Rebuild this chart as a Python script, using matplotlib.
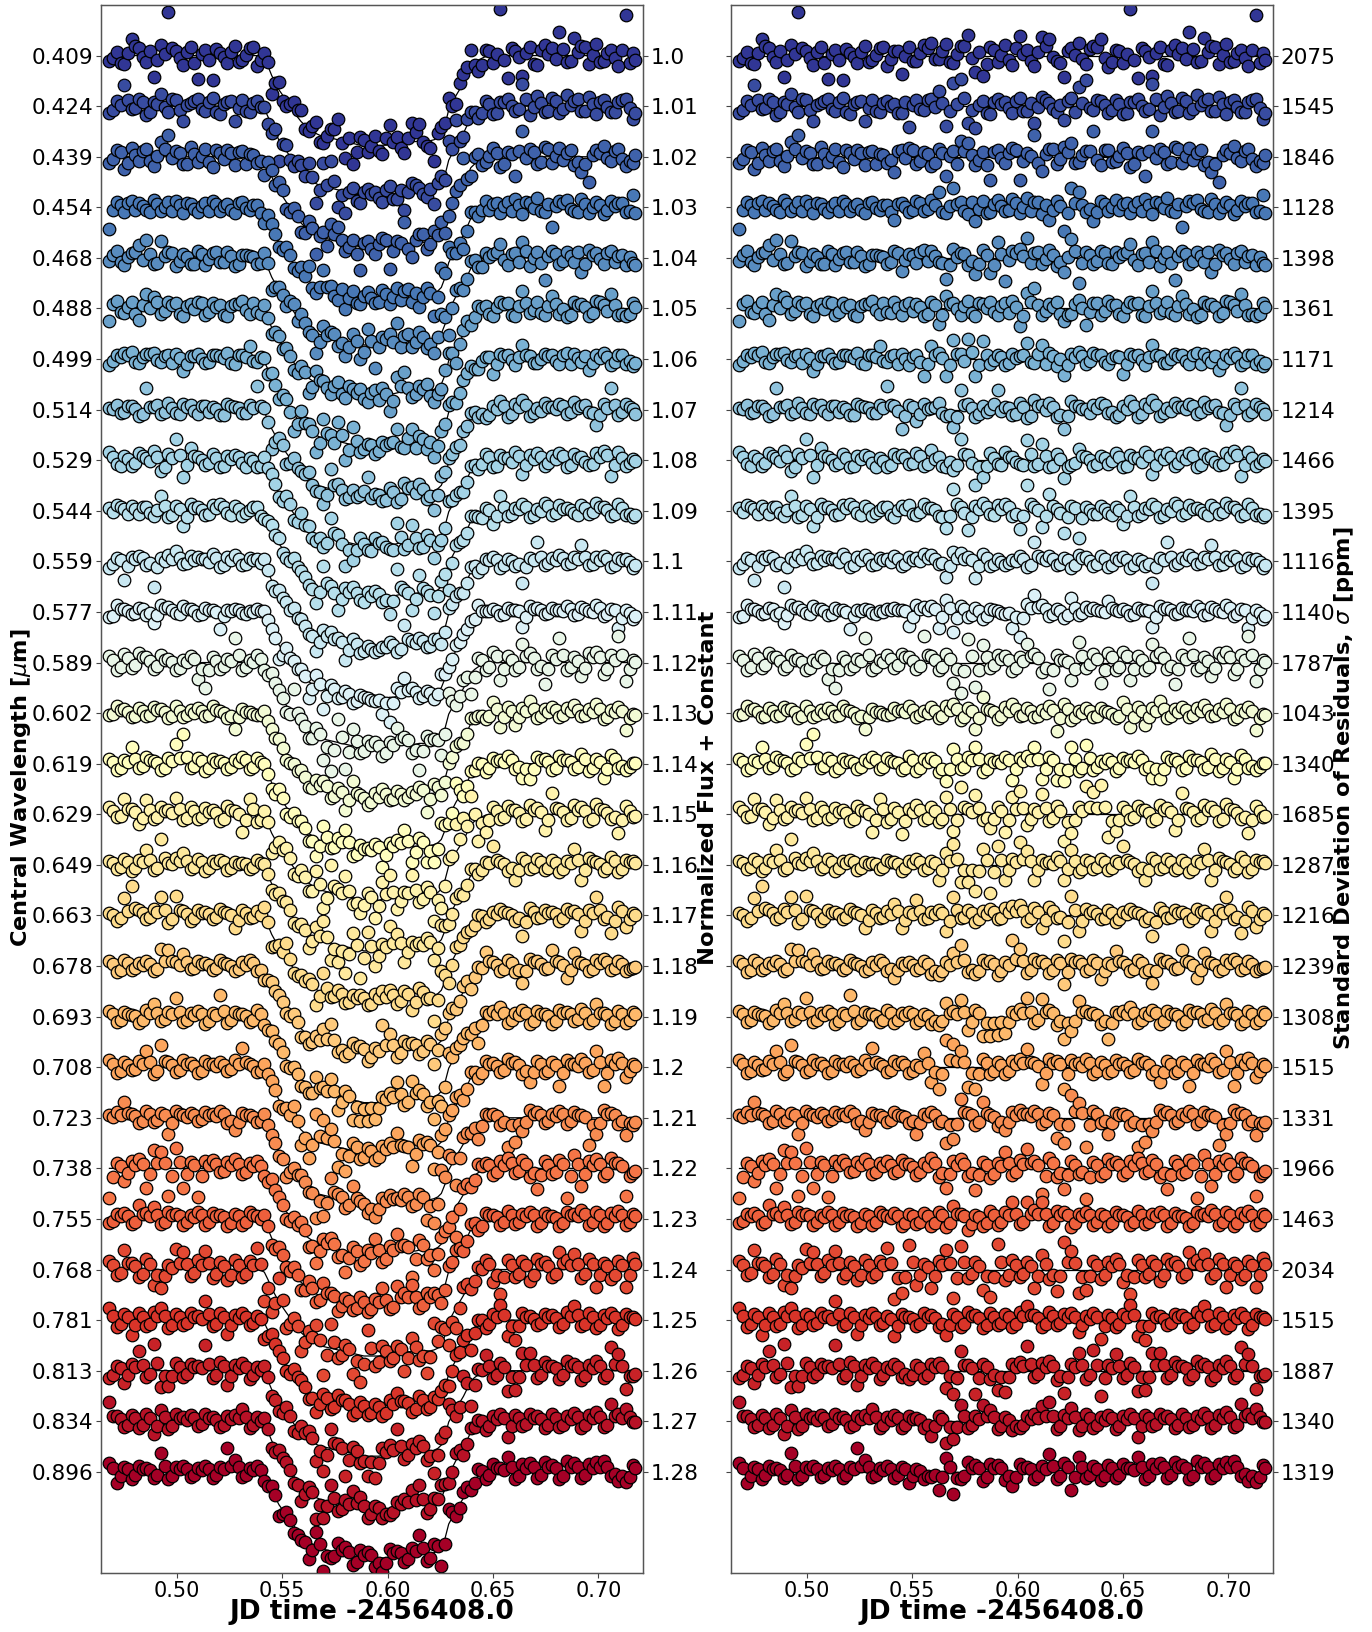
import numpy as np
import matplotlib
matplotlib.use("Agg")
import matplotlib.pyplot as plt

wavelengths = ["0.409","0.424","0.439","0.454","0.468","0.488","0.499","0.514","0.529","0.544","0.559","0.577","0.589","0.602","0.619","0.629","0.649","0.663","0.678","0.693","0.708","0.723","0.738","0.755","0.768","0.781","0.813","0.834","0.896"]
offset_labels = ["1.0","1.01","1.02","1.03","1.04","1.05","1.06","1.07","1.08","1.09","1.1","1.11","1.12","1.13","1.14","1.15","1.16","1.17","1.18","1.19","1.2","1.21","1.22","1.23","1.24","1.25","1.26","1.27","1.28"]
sigma_ppm = ["2075","1545","1846","1128","1398","1361","1171","1214","1466","1395","1116","1140","1787","1043","1340","1685","1287","1216","1239","1308","1515","1331","1966","1463","2034","1515","1887","1340","1319"]
offsets = [1.00,1.01,1.02,1.03,1.04,1.05,1.06,1.07,1.08,1.09,1.10,1.11,1.12,1.13,1.14,1.15,1.16,1.17,1.18,1.19,1.20,1.21,1.22,1.23,1.24,1.25,1.26,1.27,1.28]

# sample times (JD - 2456408.0), read along the row
times = [.4680,.4715,.4750,.4785,.4820,.4855,.4890,.4925,.4960,.4995,.5030,.5065,
         .5100,.5135,.5170,.5205,.5240,.5275,.5310,.5345,.5380,.5415,.5450,.5485,
         .5520,.5555,.5590,.5625,.5660,.5695,.5730,.5765,.5800,.5835,.5870,.5905,
         .5940,.5975,.6010,.6045,.6080,.6115,.6150,.6185,.6220,.6255,.6290,.6325,
         .6360,.6395,.6430,.6465,.6500,.6535,.6570,.6605,.6640,.6675,.6710,.6745,
         .6780,.6815,.6850,.6885,.6920,.6955,.6990,.7025,.7060,.7095,.7130,.7165]
times_b = [.4698,.4733,.4768,.4803,.4838,.4873,.4908,.4943,.4978,.5013,.5048,.5083,
           .5118,.5153,.5188,.5223,.5258,.5293,.5328,.5363,.5398,.5433,.5468,.5503,
           .5538,.5573,.5608,.5643,.5678,.5713,.5748,.5783,.5818,.5853,.5888,.5923,
           .5958,.5993,.6028,.6063,.6098,.6133,.6168,.6203,.6238,.6273,.6308,.6343,
           .6378,.6413,.6448,.6483,.6518,.6553,.6588,.6623,.6658,.6693,.6728,.6763,
           .6798,.6833,.6868,.6903,.6938,.6973,.7008,.7043,.7078,.7113,.7148,.7175]
# transit shape, percent of the row's depth
shape = [0,0,0,0,0,0,0,0,0,0,0,0,
         0,0,0,0,0,0,0,0,0,3,22,38,
         50,62,73,80,86,89,91,93,95,97,99,100,
         100,99,98,97,96,95,94,94,93,87,60,44,
         30,12,5,1,0,0,0,0,0,0,0,0,
         0,0,0,0,0,0,0,0,0,0,0,0]
shape_b = [0,0,0,0,0,0,0,0,0,0,0,0,
           0,0,0,0,0,0,0,0,1,12,30,44,
           56,68,77,83,88,90,92,94,96,98,100,100,
           100,99,98,96,95,95,94,94,91,76,52,37,
           21,8,3,0,0,0,0,0,0,0,0,0,
           0,0,0,0,0,0,0,0,0,0,0,0]
# depth of each row in units of 1e-4 flux
depths = [179,178,180,182,172,172,175,172,170,172,172,172,170,170,172,170,170,170,170,170,170,172,172,172,171,177,169,175,172]

# residuals of each row in units of 1e-4 flux (up = positive)
r00 = [-10,8,-16,33,14,-12,-42,20,87,10,-18,16, -46,12,-48,6,-14,18,-8,14,-20,10,-37,16, -10,20,24,-6,22,-14,18,41,-33,-41,16,-12, 20,-18,38,12,-20,36,33,-10,-42,14,24,-16, 18,32,-22,12,-14,93,-44,10,-40,16,-18,20, 14,47,-12,35,18,-16,22,-10,12,-20,81,6]
r01 = [-14,10,41,-6,14,-18,8,25,-12,12,-30,6, 14,-10,16,-16,8,-30,12,-12,10,4,-14,-41, 12,-8,14,30,-39,46,53,-33,-43,10,-16,14, 8,-14,16,-10,-34,18,6,-12,-28,16,38,51, -8,10,-14,12,-16,8,14,-10,43,-18,20,-12, 16,-14,22,10,-10,18,-16,12,-12,8,14,-25]
r02 = [-12,14,-25,18,-8,16,-18,29,42,12,-14,20, -10,16,-20,8,14,-16,12,6,-12,-30,14,18, -14,10,-18,16,-38,12,31,28,-16,10,-46,14, -12,18,-46,8,43,-28,16,-14,20,28,-10,12, 51,-16,14,-8,18,-20,10,-38,50,16,-14,20, -12,18,8,-16,-30,-50,14,22,-8,16,-18,-12]
r03 = [-42,10,-10,12,8,-6,14,-8,10,12,-12,6, -10,8,12,-8,6,-12,10,-6,4,-25,8,-10, 12,-8,14,30,-12,38,10,-14,-28,12,-10,14, -8,16,-12,18,10,-14,-25,12,-46,39,31,-10, -28,12,-8,14,6,-12,10,16,-14,8,18,-10, -38,12,14,-8,16,-12,10,-14,12,8,-10,25]
r04 = [-6,14,-14,10,26,35,-12,33,12,-16,8,-12, 14,-14,10,-8,12,-16,6,4,-12,14,-25,8, -10,16,14,-8,-41,18,10,-14,-31,16,-30,31, -45,14,18,39,10,-12,16,-16,-28,38,-49,12, -12,14,-10,12,8,28,-14,10,31,-16,12,-44, 14,-12,12,-8,-28,16,10,-12,14,4,-14,-10]
r05 = [-25,14,-8,12,-22,28,23,-10,12,10,-14,8, 12,-12,10,6,-14,8,14,-10,-6,12,-12,10, 8,-14,12,-30,24,10,-12,14,-14,8,12,-12, 10,14,-34,31,40,-12,8,12,-25,-10,16,-33, 10,-12,14,6,-14,12,10,-14,34,-8,12,-12, 24,-10,-16,12,8,-14,14,6,29,-12,-14,10]
r06 = [-12,8,12,14,-8,10,12,-6,8,10,-24,6, 10,-8,8,6,12,-10,8,26,-6,8,10,-12, 8,-34,25,12,-33,38,10,39,-33,35,-10,8, -12,10,6,32,-8,28,12,-14,-31,10,14,-10, 12,8,-10,6,-29,10,8,-12,28,6,-8,10, 8,-10,12,10,-6,-21,8,12,-12,8,-10,-14]
r07 = [4,10,-4,8,-12,43,6,-8,14,-6,12,10, -8,8,6,-10,12,6,-6,10,46,8,-39,10, -22,12,4,14,-12,-34,39,12,-14,8,2,39, 6,-10,14,-16,20,10,14,-14,-39,18,8,2, 10,14,-6,-14,8,18,-14,12,20,-12,4,14, 6,12,-8,16,8,-4,-31,12,43,-10,12,2]
r08 = [16,-8,8,-12,14,4,18,-22,12,42,-33,25, 6,-10,12,-14,8,10,-6,4,-14,12,10,-8, 14,-12,20,6,-14,-20,41,10,-48,-33,14,-8, 16,6,-8,40,-12,33,-14,12,-36,-10,22,6, -12,8,-8,14,-14,10,4,16,-27,10,14,-12, 8,14,-14,12,6,-10,14,18,-31,16,-12,2]
r09 = [6,12,4,10,-6,8,-10,30,-12,10,-31,14, 8,-8,12,14,-4,10,-10,2,8,-12,10,12, -8,14,6,-10,-34,44,8,-37,10,16,-6,12, 14,-10,-36,52,8,-32,34,4,-43,10,-54,8, -6,10,-4,8,-27,29,-10,6,14,-12,4,16, -8,12,6,-4,12,-6,16,8,-10,14,-8,-12]
r10 = [-14,6,-37,8,10,-8,-51,6,12,20,-6,10, 8,4,14,-12,8,12,-8,6,4,10,-10,8, 6,14,12,-6,-30,18,16,8,-32,14,-10,4, -8,2,10,-12,39,6,10,-8,6,-14,12,8, -10,10,-12,6,8,-14,4,-10,-42,6,39,-8, 6,12,-6,8,33,-8,8,10,-12,6,4,-14]
r11 = [-10,14,6,-4,8,-6,-22,14,10,-2,12,6, -6,8,4,-34,4,6,-2,2,6,8,4,-27, 14,10,12,-32,24,-39,12,-10,8,-14,6,2, -4,-32,-49,16,34,14,-8,6,-12,27,-6,10, 8,2,22,4,6,-6,8,4,-30,12,8,-4, 8,4,12,-6,10,2,14,-8,6,-32,4,-14]
r12 = [12,-14,16,-10,18,10,-12,14,8,-14,6,12, -32,-51,10,-12,8,48,-14,6,14,-10,16,10, -12,53,12,-14,16,-41,-60,46,-49,34,-10,14, 12,-16,10,36,16,-18,-52,14,6,-34,41,-10, 16,-41,18,-14,20,-35,12,-14,36,18,-12,-42, 14,48,-14,10,-26,18,20,-22,14,52,-37,6]
r13 = [-4,14,8,-8,10,-6,12,8,-10,14,-8,6, 10,-6,14,4,-10,-31,8,2,-4,10,6,14, -8,4,12,-10,14,18,-14,10,-31,31,6,-12, 12,18,-6,10,-8,6,14,-36,18,-14,4,10, -8,10,2,-10,22,-27,12,-24,10,24,-10,8, 12,-8,10,16,-6,8,18,-12,6,12,-33,-2]
r14 = [10,-12,8,34,-8,14,6,-12,12,39,58,-8, 12,-14,10,6,-10,8,14,-10,12,4,-12,16, -14,10,12,-16,-34,29,-10,14,33,-16,10,6, 14,-33,12,16,34,-31,14,-33,-34,33,-14,37, -12,6,10,-14,12,8,16,-10,-29,-31,14,10, -12,16,8,-10,20,-14,10,-29,18,-8,-12,2]
r15 = [14,-6,31,10,-19,29,-10,14,8,32,-12,14, -10,12,8,-14,16,6,-36,30,-16,12,-39,10, 18,-12,14,-16,35,-33,54,10,39,-12,-27,14, -36,34,46,-22,10,41,-14,16,-53,-37,14,56, 44,57,-44,-34,14,-10,16,8,-14,18,12,-31, 43,10,-12,18,14,-14,20,8,-10,-37,16,-6]
r16 = [8,-8,12,-12,10,30,-10,52,4,14,24,-8, 12,-12,8,10,-10,6,4,-8,10,6,-12,8, 12,-10,8,-29,24,41,-33,-33,-52,31,-55,38, -29,12,45,28,-29,10,6,16,-30,30,-14,10, -8,12,-10,8,38,6,-12,-29,14,-8,12,-10, 10,-14,8,31,-30,14,6,-12,16,-14,10,8]
r17 = [4,-10,34,58,10,-8,12,36,-15,39,8,-10, 10,6,-8,12,4,-24,10,-6,8,22,-24,6, 31,-8,6,10,-30,37,-6,10,-12,8,12,-8, 14,18,20,-10,14,-25,16,-6,-50,39,-31,12, 8,-8,10,-12,6,12,4,-10,-40,14,-6,10, 6,-10,12,8,-30,10,36,-8,-34,16,-22,4]
r18 = [10,-12,12,-8,6,10,-10,33,31,8,24,-6, 10,6,-8,12,4,-10,8,12,-10,-23,6,8, -8,10,-16,-18,8,26,41,-12,-16,12,10,-18, 8,52,33,-14,14,10,-14,12,-35,14,10,-10, 12,-25,6,29,8,-10,12,-12,-34,14,10,-6, 31,8,-24,26,6,-10,12,14,-8,10,-10,-4]
r19 = [12,-10,10,4,-12,14,24,-8,10,36,-10,8, 12,-14,8,42,-12,10,6,-10,14,-12,8,10, -12,6,-14,-16,27,12,32,-26,14,-39,-39,-37, -33,10,16,36,-12,34,14,-16,-44,-29,31,12, 8,-14,-44,10,12,19,-12,8,14,-14,12,6, -14,14,10,-8,16,-12,25,8,-14,12,-12,10]
r20 = [14,-12,10,-6,12,32,-14,44,10,-10,14,8, -12,12,6,10,-8,14,38,6,-10,12,10,-12, 4,29,-29,-44,54,46,33,-39,-44,16,-14,10, -14,12,16,35,8,-33,16,12,-44,14,8,16, -14,10,-12,14,8,-10,16,10,-14,-29,12,-12, 10,-38,14,6,16,-10,33,-38,14,18,-19,6]
r21 = [6,12,31,8,-10,14,-8,10,-32,14,6,10, -6,12,8,14,-10,-24,10,6,-8,12,4,-10, -32,8,12,-10,-50,-42,37,10,-14,31,6,-16, -25,12,16,8,14,-12,10,-40,-49,46,29,-58, 14,-10,-33,10,8,-14,-57,-47,-27,16,12,-10, 8,14,-12,12,6,-54,-33,16,10,-12,-35,-14]
r22 = [-59,10,-25,14,18,-39,37,33,-54,41,-39,12, -56,14,16,-8,12,18,-12,10,14,-10,16,8, -14,10,20,-18,-39,14,18,-16,-42,12,-20,10, 33,-14,16,38,14,-51,20,-18,-41,14,-12,-61, 12,-16,18,12,-14,14,20,-10,16,-18,-41,14, -12,16,-59,26,-35,14,18,-16,20,10,-54,-10]
r23 = [-8,10,12,-10,27,12,24,-10,14,10,-12,8, 14,-12,12,8,-14,10,-12,14,6,12,-14,10, -10,12,-14,14,-16,26,10,-22,8,-14,16,-12, 14,33,-10,34,18,33,-14,16,14,-16,10,14, -12,10,-14,14,8,-12,16,-10,10,14,-14,12, 6,-14,14,10,18,-12,14,-14,12,16,-12,10]
r24 = [16,-10,38,12,-14,20,-30,-36,8,41,34,-12, 18,36,-16,14,-20,18,-14,16,43,-58,-46,48, -30,10,-36,16,38,-57,47,-16,14,-41,-54,51, -20,18,-14,14,-36,28,-18,-43,54,36,-46,-41, 16,-18,14,20,-24,-48,18,-14,16,-22,20,14, -14,35,18,31,-16,20,-34,12,-18,16,-34,22]
r25 = [24,-14,12,-29,14,-12,16,24,-16,12,-10,14, 8,37,-12,14,-27,10,14,-10,8,-32,12,6, -12,14,10,-14,-29,12,-14,16,10,-16,14,-10, 12,-14,16,27,10,-14,16,-10,12,14,-24,8, 14,-37,10,-14,12,30,-32,-39,14,8,-10,12, 10,-14,16,28,-12,14,-16,10,14,-18,12,6]
r26 = [-14,10,-24,14,38,-12,53,-32,-30,16,-12,14, 10,50,-14,18,-29,12,16,-16,8,14,-12,-16, 12,-14,14,16,-34,-47,39,12,-47,14,-16,-39, -43,14,18,48,-12,16,20,-18,-45,14,35,-16, 40,-50,12,32,-14,16,-40,-38,35,35,-14,18, 10,-16,20,14,-18,12,20,-14,47,32,-37,-10]
r27 = [38,10,-12,12,-14,14,-26,23,-16,14,8,12, -10,14,8,-12,10,12,25,-14,8,12,-14,10, 6,-14,-30,10,-43,-35,33,-14,10,32,23,-16, 8,-18,-14,10,14,30,38,-16,12,26,-18,14, -14,8,12,-16,10,14,-32,12,-10,14,10,-14, 14,-12,10,16,-14,12,18,-12,35,14,25,-2]
r28 = [18,-23,10,-14,12,8,-12,38,-14,10,12,-10, 8,12,-12,10,47,23,-10,8,12,-12,10,-22, 6,-14,-10,-35,28,-43,-14,20,14,-18,16,14, -16,-28,16,10,-14,12,36,-14,18,-36,30,-12, 12,-16,14,-12,16,8,30,-14,16,18,-12,20, 14,-14,22,18,-12,16,20,22,-8,-18,-20,14]
residuals = [r00,r01,r02,r03,r04,r05,r06,r07,r08,r09,r10,r11,r12,r13,r14,r15,r16,r17,r18,r19,r20,r21,r22,r23,r24,r25,r26,r27,r28]

# points packed inside each row's band, estimated from its width, at times_b
q00 = [-4,-14,6,18,-2,10,-8,3,14,-5,7,-15, 4,-9,13,-3,8,-12,2,16,-6,9,-1,-11, 5,14,-7,10,-13,3,19,-4,8,-16,12,1, -9,15,4,-11,7,18,-3,-14,10,2,-6,13, 16,-5,-13,9,3,-8,15,-2,6,-17,11,4, -7,13,-10,8,17,1,-12,5,-4,12,-15,-9]
q01 = [-8,3,12,-4,9,-11,5,-2,14,-7,2,10, -5,8,-12,4,11,-3,-9,6,1,-13,9,3, -6,12,-1,7,-10,5,16,-8,2,-14,9,4, -3,11,-9,6,-1,13,-6,3,10,-11,7,-4, 12,2,-8,5,-13,9,1,-5,14,-2,6,-9, 11,-6,3,15,-10,4,8,-2,-11,12,-4,-13]
q02 = [-5,9,-13,4,12,-8,2,15,-3,8,-15,6, 1,-11,13,-5,7,10,-14,3,-7,11,-2,14, -9,5,-12,8,1,-15,12,4,-6,-16,10,-3, 7,13,-9,2,-12,6,16,-4,9,-13,3,11, -6,14,-10,1,8,-14,5,12,-3,9,-11,15, 2,-7,13,-10,-14,4,8,-2,11,-5,-9,3]
q03 = [-6,4,8,-5,3,-9,6,1,-7,5,9,-4, 2,-8,6,3,-6,9,-2,4,-10,7,1,-5, 8,-3,5,-9,2,7,-7,10,-4,-11,6,3, -5,9,1,-8,11,4,-6,2,-12,8,5,-3, -9,6,1,-5,9,3,-7,4,10,-2,-8,6, 2,9,-4,-10,7,1,5,-6,3,9,-7,-12]
q04 = [5,-9,2,12,-4,8,-11,3,10,-6,1,-13, 7,-3,11,-8,4,-12,6,1,-9,10,-5,3, 12,-7,4,-10,-14,2,8,-6,-12,5,-15,7, -4,9,3,-11,12,-2,6,-8,1,14,-10,5, -6,9,-13,2,11,-4,7,-9,13,-1,-11,4, 8,-7,3,12,-12,5,-3,10,-9,6,1,-14]
q05 = [9,-6,3,-10,7,1,12,-4,6,-11,4,-2, 10,-7,2,-12,5,8,-3,11,-9,1,6,-5, 3,-10,7,-13,9,-2,5,-8,11,1,-6,4, -9,2,-14,12,7,-5,3,-11,-13,9,1,-7, 11,-4,6,-10,2,8,-12,4,10,-3,-8,5, 9,-1,-12,6,3,-9,12,-4,7,-11,-10,2]
q06 = [-3,5,9,-6,4,10,-2,7,-8,3,-10,6, 1,-5,8,2,-7,9,4,-3,6,-9,1,5, -6,-10,8,3,-12,11,-4,14,-11,9,-2,5, -7,3,8,-5,10,-9,6,1,-12,4,7,-3, 9,-6,2,5,-10,7,-2,4,9,-7,1,6, -4,8,-9,3,7,-8,2,5,-6,9,-3,-7]
q07 = [2,-6,7,1,-8,5,10,-4,3,-9,6,-2, 8,-5,1,-10,7,3,-7,4,9,-3,-12,6, -9,1,5,-7,-11,-14,9,3,-8,-5,11,-2, 4,-9,6,-12,8,-1,5,-10,-13,7,2,-6, 3,9,-4,-10,1,7,-8,5,10,-6,-2,6, 1,8,-5,4,9,-7,-11,3,10,-4,6,-8]
q08 = [7,-12,3,-5,9,-2,6,-14,4,11,-10,8, 1,-6,5,-11,3,7,-13,-2,-9,6,4,-5, 8,-7,2,-12,-4,-10,13,-6,-14,-11,5,-9, 6,-3,-10,12,-7,8,-12,3,-13,-5,9,1, -8,4,-2,7,-11,5,-4,9,-9,3,6,-5, 2,8,-9,5,-3,-7,6,10,-10,4,-6,-2]
q09 = [-2,7,-6,3,8,-5,1,10,-9,4,-12,6, 2,-6,5,8,-9,3,-4,7,-8,1,4,-7, -3,6,2,-12,-10,13,-5,-13,4,7,-9,3, 8,-6,-10,14,1,-11,9,-4,-12,5,-14,2, -7,4,-9,1,-10,8,-6,3,7,-8,-1,9, -5,4,1,-9,6,-3,8,2,-7,5,-6,-8]
q10 = [-6,2,-9,4,6,-3,-11,1,5,7,-4,3, 5,-2,6,-7,3,5,-5,2,-1,4,-6,3, 1,6,4,-4,-9,7,5,2,-10,6,-6,-1, -4,1,4,-8,10,2,5,-5,3,-8,6,1, -6,4,-7,2,3,-8,1,-6,-11,3,9,-4, 2,6,-3,4,9,-5,3,5,-7,2,-1,-8]
q11 = [-7,6,2,-3,5,-2,-6,7,3,-5,6,1, -4,4,-1,-8,2,3,-5,-1,3,4,1,-9, 6,4,5,-10,8,-11,5,-6,2,-7,3,-2, -3,-10,-12,7,9,5,-4,2,-6,8,-3,4, 3,-1,7,1,2,-5,4,1,-9,5,3,-3, 4,1,6,-4,5,-1,7,-5,3,-11,-2,-8]
q12 = [5,-8,9,-4,11,3,-7,6,2,-10,1,7, -12,-15,3,-6,4,14,-9,1,8,-5,10,4, -6,15,6,-9,8,-13,-16,13,-14,11,-4,7, 5,-10,3,12,9,-11,-15,6,1,-13,13,-3, 8,-14,10,-8,12,-12,5,-9,12,9,-6,-13, 7,14,-9,4,-11,10,11,-13,6,15,-12,2]
q13 = [-2,6,3,-5,4,-3,7,2,-6,5,-4,1, 4,-3,6,1,-5,-8,3,-1,-2,5,2,6, -4,1,5,-6,7,8,-7,4,-9,9,2,-6, 5,8,-3,4,-5,1,7,-10,8,-7,1,4, -5,4,-1,-6,8,-8,5,-8,4,9,-6,3, 6,-4,5,7,-3,3,8,-7,2,5,-10,-3]
q14 = [4,-8,3,10,-5,7,2,-8,5,11,14,-5, 6,-9,4,2,-7,3,8,-6,5,1,-8,7, -9,4,6,-10,-11,9,-6,7,10,-10,4,2, 7,-11,5,8,10,-11,7,-11,-12,10,-8,11, -7,2,4,-9,5,3,8,-6,-10,-11,7,4, -8,8,3,-6,10,-9,4,-10,9,-4,-7,1]
q15 = [7,-3,10,4,-8,9,-6,7,3,10,-7,6, -5,5,2,-9,8,1,-12,10,-10,5,-13,4, 9,-7,6,-10,11,-12,15,4,12,-8,-10,6, -12,11,13,-9,5,12,-8,7,-15,-12,6,15, 13,14,-13,-11,7,-5,8,3,-9,9,5,-11, 12,4,-7,9,6,-9,10,3,-6,-12,7,-3]
q16 = [4,-5,6,-7,5,9,-6,13,1,7,8,-4, 6,-7,3,5,-6,2,1,-5,5,2,-7,4, 6,-6,3,-10,8,11,-10,-11,-13,9,-14,10, -10,5,12,8,-10,4,2,7,-9,8,-8,5, -5,6,-6,3,10,2,-7,-10,7,-4,6,-6, 4,-8,3,9,-10,7,2,-7,8,-8,5,3]
q17 = [1,-6,9,14,5,-4,6,10,-7,11,3,-6, 5,2,-4,6,1,-9,5,-3,3,8,-9,2, 9,-5,2,5,-10,10,-3,5,-7,3,6,-5, 7,8,9,-6,7,-9,8,-3,-13,11,-10,5, 3,-5,5,-7,2,6,1,-6,-12,7,-3,5, 2,-6,6,3,-10,5,10,-4,-11,8,-8,1]
q18 = [5,-7,6,-4,2,5,-6,10,9,3,8,-3, 5,2,-4,6,1,-6,3,6,-6,-8,2,3, -4,5,-9,-10,3,8,11,-7,-9,6,5,-10, 3,13,10,-8,7,5,-8,6,-11,7,5,-6, 6,-9,2,9,3,-6,6,-7,-10,7,5,-3, 9,3,-8,8,2,-6,6,7,-4,5,-6,-2]
q19 = [6,-6,5,1,-7,7,8,-5,5,10,-6,3, 6,-8,3,11,-7,5,2,-6,7,-7,3,5, -7,2,-8,-9,8,6,9,-10,7,-12,-12,-11, -10,5,8,10,-7,10,7,-9,-12,-9,9,6, 3,-8,-12,5,6,7,-7,3,7,-8,6,2, -8,7,5,-4,8,-7,8,3,-8,6,-7,5]
q20 = [7,-7,5,-3,6,10,-8,12,5,-6,7,3, -7,6,2,5,-4,7,11,2,-6,6,5,-7, 1,9,-10,-13,14,13,10,-11,-13,8,-8,5, -8,6,8,10,3,-11,8,6,-13,7,3,8, -8,5,-7,7,3,-6,8,5,-8,-10,6,-7, 5,-12,7,2,8,-6,10,-12,7,9,-8,2]
q21 = [2,6,10,3,-6,7,-4,5,-10,7,2,5, -3,6,3,7,-6,-9,5,2,-4,6,1,-6, -11,3,6,-6,-14,-13,11,5,-8,10,2,-9, -9,6,8,3,7,-7,5,-12,-14,13,9,-15, 7,-6,-11,5,3,-8,-15,-13,-9,8,6,-6, 3,7,-7,6,2,-14,-11,8,5,-7,-11,-8]
q22 = [-17,5,-9,7,9,-12,11,10,-15,12,-12,6, -16,7,8,-5,6,9,-7,5,7,-6,8,3, -8,5,10,-10,-12,7,9,-9,-13,6,-11,5, 10,-8,8,11,7,-15,10,-10,-13,7,-7,-17, 6,-9,9,6,-8,7,10,-6,8,-10,-13,7, -7,8,-16,9,-11,7,9,-9,10,5,-15,-6]
q23 = [-5,5,6,-6,9,6,8,-6,7,5,-7,3, 7,-7,6,3,-8,5,-7,7,2,6,-8,5, -6,6,-8,7,-9,9,5,-10,3,-8,8,-7, 7,10,-6,10,9,10,-8,8,7,-9,5,7, -7,5,-8,7,3,-7,8,-6,5,7,-8,6, 2,-8,7,5,9,-7,7,-8,6,8,-7,5]
q24 = [8,-6,12,6,-8,10,-11,-12,3,13,11,-7, 9,12,-9,7,-11,9,-8,8,13,-16,-14,14, -11,5,-12,8,12,-16,14,-9,7,-13,-15,15, -11,9,-8,7,-12,10,-10,-13,15,12,-14,-13, 8,-10,7,10,-11,-14,9,-8,8,-11,10,7, -8,12,9,11,-9,10,-11,6,-10,8,-11,11]
q25 = [9,-8,6,-10,7,-7,8,9,-9,6,-6,7, 3,12,-7,7,-10,5,7,-6,3,-11,6,2, -7,7,5,-8,-10,6,-8,8,5,-9,7,-6, 6,-8,8,10,5,-8,8,-6,6,7,-9,3, 7,-12,5,-8,6,10,-11,-12,7,3,-6,6, 5,-8,8,10,-7,7,-9,5,7,-10,6,2]
q26 = [-8,5,-9,7,12,-7,15,-10,-10,8,-7,7, 5,14,-8,9,-10,6,8,-9,3,7,-7,-9, 6,-8,7,8,-11,-14,12,6,-14,7,-9,-12, -13,7,9,14,-7,8,10,-10,-13,7,11,-9, 12,-14,6,10,-8,8,-12,-12,11,11,-8,9, 5,-9,10,7,-10,6,10,-8,14,10,-11,-6]
q27 = [11,5,-7,6,-8,7,-9,8,-9,7,3,6, -6,7,3,-7,5,6,9,-8,3,6,-8,5, 2,-8,-10,5,-12,-11,10,-8,5,10,8,-9, 3,-10,-8,5,7,10,11,-9,6,9,-10,7, -8,3,6,-9,5,7,-10,6,-6,7,5,-8, 7,-7,5,8,-8,6,9,-7,11,7,9,-2]
q28 = [8,-9,5,-7,6,3,-7,11,-8,5,6,-6, 3,6,-7,5,12,9,-6,3,6,-7,5,-8, 2,-8,-6,-11,9,-12,-8,8,7,-10,8,7, -9,-10,8,5,-8,6,11,-8,9,-11,10,-7, 6,-9,7,-7,8,3,10,-8,8,9,-7,9, 7,-8,10,9,-7,8,9,10,-5,-9,-10,7]
residuals_b = [q00,q01,q02,q03,q04,q05,q06,q07,q08,q09,q10,q11,q12,q13,q14,q15,q16,q17,q18,q19,q20,q21,q22,q23,q24,q25,q26,q27,q28]

W, H = 1372, 1632
fig = plt.figure(figsize=(W/100, H/100), dpi=100)
def axes_px(x0, x1, y0, y1):
    return fig.add_axes([x0/W, 1-y1/H, (x1-x0)/W, (y1-y0)/H])
axL = axes_px(101, 643, 5, 1573)
axR = axes_px(731, 1273, 5, 1573)

t = np.array(times + times_b)
s = np.array(shape + shape_b)/100.0
order = np.argsort(t)
t = t[order]
s = s[order]
cmap = plt.cm.RdYlBu_r
n = len(offsets)
for i in range(n):
    c = cmap(i/(n-1))
    res = np.array(residuals[i] + residuals_b[i])[order]*1e-4
    model = s*depths[i]*1e-4
    axL.plot(t, offsets[i]+model, color='k', lw=0.9, zorder=2+2*i)
    axL.scatter(t, offsets[i]+model-res, s=82, color=c, edgecolor='k', linewidth=0.9, zorder=3+2*i)
    axR.plot(t, np.full_like(t, offsets[i]), color='k', lw=0.9, zorder=2+2*i)
    axR.scatter(t, offsets[i]-res, s=82, color=c, edgecolor='k', linewidth=0.9, zorder=3+2*i)

xt = [0.50,0.55,0.60,0.65,0.70]
for ax in (axL, axR):
    ax.set_xlim(0.464, 0.7212)
    ax.set_ylim(1.30, 0.99)
    ax.set_xticks(xt)
    ax.set_xticklabels(["%.2f" % v for v in xt], fontsize=15)
    ax.set_yticks(offsets)
    ax.tick_params(axis='both', length=3.5, width=0.8, color='#444444', pad=2)
    for sp in ax.spines.values():
        sp.set_color('#555555')
        sp.set_linewidth(1.0)

axL.set_yticklabels(wavelengths, fontsize=15.5)
axL2 = axL.twinx()
axL2.set_ylim(axL.get_ylim())
axL2.set_yticks(offsets)
axL2.set_yticklabels(offset_labels, fontsize=15.5)
axL2.tick_params(axis='y', length=3.5, width=0.8, color='#444444', pad=2)
for sp in axL2.spines.values():
    sp.set_color('#555555')

axR.set_yticklabels([])
axR2 = axR.twinx()
axR2.set_ylim(axR.get_ylim())
axR2.set_yticks(offsets)
axR2.set_yticklabels(sigma_ppm, fontsize=15.5)
axR2.tick_params(axis='y', length=3.5, width=0.8, color='#444444', pad=2)
for sp in axR2.spines.values():
    sp.set_color('#555555')

xlab = dict(fontsize=19, fontweight='bold', ha='center', va='center')
fig.text(372/W, 1-1612/H, "JD time -2456408.0", **xlab)
fig.text(1002/W, 1-1612/H, "JD time -2456408.0", **xlab)
ylab = dict(fontsize=16.2, fontweight='bold', ha='center', va='center', rotation=90)
fig.text(21/W, 1-788/H, r"Central Wavelength [$\mu$m]", **ylab)
fig.text(708/W, 1-788/H, "Normalized Flux + Constant", **ylab)
fig.text(1344/W, 1-788/H, r"Standard Deviation of Residuals, $\sigma$ [ppm]", **ylab)

fig.savefig("out.png", dpi=100)
